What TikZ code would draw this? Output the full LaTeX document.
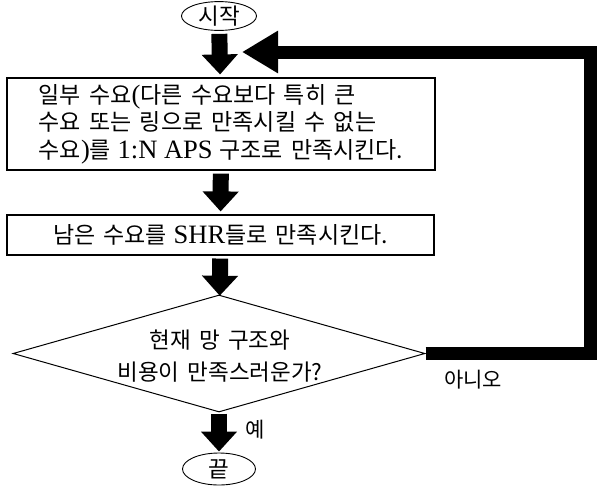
\documentclass[tikz,border=0pt]{standalone}
\usepackage{fontspec}
\setmainfont{Liberation Serif}
\newfontfamily\kr[WordSpace=1.6]{Noto Sans CJK KR}
\usetikzlibrary{shapes.geometric,arrows.meta}
\newcommand\kt[1]{{\fontsize{23}{27.5}\selectfont\kr #1}}
\newcommand\kd[1]{{\fontsize{22.5}{32}\selectfont\kr #1}}
\newcommand\kl[1]{{\fontsize{21}{27}\selectfont\kr #1}}
\begin{document}
\begin{tikzpicture}[x=1pt,y=-1pt,
  every node/.style={font=\fontsize{26.5}{27.5}\selectfont},
  term/.style={draw, ellipse, line width=0.9pt, inner sep=0pt},
  procbox/.style={draw, rectangle, line width=1.1pt, inner sep=0pt, align=left},
  decision/.style={draw, diamond, line width=1pt, inner sep=0pt, aspect=3.5, align=center},
  bigarrow/.style={line width=16pt, -{Triangle[width=35pt,length=20pt]}, shorten <=3pt, shorten >=3pt},
  backline/.style={line width=13pt, line join=miter, -{Triangle[width=40pt,length=36pt]}}]
\useasboundingbox (0,0) rectangle (597,488);
\node[term, minimum width=75pt, minimum height=26pt] (start) at (219,16) {\kd{시작}};
\node[procbox, minimum width=428pt, minimum height=92pt] (b1) at (221,124)
  {\kt{일부 수요}(\kt{다른 수요보다 특히 큰}\\
   \kt{수요 또는 링으로 만족시킬 수 없는}\\
   \kt{수요})\kt{를} 1:N APS \kt{구조로 만족시킨다.}};
\node[procbox, minimum width=427pt, minimum height=40pt] (b2) at (220.5,235)
  {\kt{남은 수요를} SHR\kt{들로 만족시킨다.}};
\node[decision, minimum width=412pt, minimum height=117pt] (dia) at (219,353.5) {};
\node[align=center, font=\fontsize{22.5}{32}\selectfont] (dtext) at (220,356)
  {\kd{현재 망 구조와}\\\kd{비용이 만족스러운가?}};
\node[term, minimum width=73pt, minimum height=32pt] (end) at (219,469) {\kd{끝}};
\node (no) at (473,380) {\kl{아니오}};
\node (yes) at (255,430) {\kl{예}};
\coordinate (fb) at (242,52);
\coordinate (rc) at (590,52);
\draw[bigarrow] (start) -- (b1);
\draw[bigarrow] (b1) -- (b2);
\draw[bigarrow, shorten >=-1pt] (b2) -- (dia);
\draw[bigarrow, shorten <=1pt, shorten >=1pt] (dia) -- (end);
\draw[backline] (dia.east) -| (rc) -- (fb);
\end{tikzpicture}
\end{document}
